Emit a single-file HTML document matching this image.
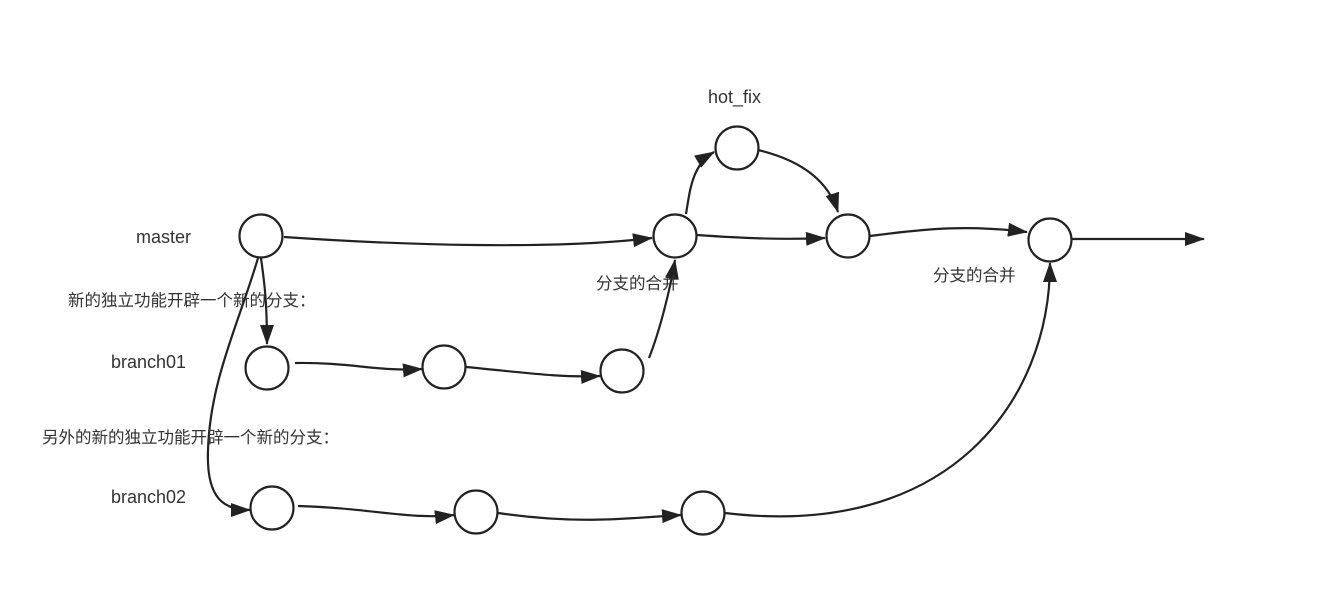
<!DOCTYPE html>
<html><head><meta charset="utf-8"><style>
html,body{margin:0;padding:0;background:#fff;width:1326px;height:614px;overflow:hidden}
text{font-family:"Liberation Sans","Noto Sans CJK SC",sans-serif;font-size:18px;fill:#333}
text.c{font-size:16.5px}
</style></head><body>
<svg width="1326" height="614" viewBox="0 0 1326 614" xmlns="http://www.w3.org/2000/svg">
<defs>
<marker id="b" markerWidth="20" markerHeight="14" refX="19" refY="7" orient="auto" markerUnits="userSpaceOnUse"><path d="M0,0 L20,7 L0,14 Z" fill="#222"/></marker></defs>
<g fill="none" stroke="#222" stroke-width="2.2">
<path d="M284,237 C400,245 550,250 652,238" marker-end="url(#b)"/>
<path d="M697,235 C740,238 780,240 825,238" marker-end="url(#b)"/>
<path d="M686,214 C690,190 692,165 714,152" marker-end="url(#b)"/>
<path d="M758,150 C800,160 828,180 838,212" marker-end="url(#b)"/>
<path d="M870,236 C930,228 970,225 1027,232" marker-end="url(#b)"/>
<path d="M1072,239 L1204,239" marker-end="url(#b)"/>
<path d="M261,258 C264,280 267,300 267,344" marker-end="url(#b)"/>
<path d="M258,258 C240,320 210,380 208,450 C206,500 225,510 250,510" marker-end="url(#b)"/>
<path d="M295,363 C350,362 380,372 422,369" marker-end="url(#b)"/>
<path d="M466,367 C520,372 560,378 600,376" marker-end="url(#b)"/>
<path d="M649,358 C660,330 670,290 675,260" marker-end="url(#b)"/>
<path d="M298,506 C370,508 410,520 454,515" marker-end="url(#b)"/>
<path d="M498,513 C580,525 630,518 681,515" marker-end="url(#b)"/>
<path d="M725,513 C950,540 1050,400 1050,263" marker-end="url(#b)"/>
</g>
<g fill="#fff" stroke="#222" stroke-width="2.2">
<circle cx="261" cy="236" r="21.5"/><circle cx="737" cy="148" r="21.5"/><circle cx="675" cy="236" r="21.5"/>
<circle cx="848" cy="236" r="21.5"/><circle cx="1050" cy="240" r="21.5"/>
<circle cx="267" cy="368" r="21.5"/><circle cx="444" cy="367" r="21.5"/><circle cx="622" cy="371" r="21.5"/>
<circle cx="272" cy="508" r="21.5"/><circle cx="476" cy="512" r="21.5"/><circle cx="703" cy="513" r="21.5"/>
</g>
<text x="136" y="243">master</text>
<text x="708" y="103">hot_fix</text>
<text class="c" x="596" y="289">分支的合并</text>
<text class="c" x="933" y="281">分支的合并</text>
<text class="c" x="68" y="306">新的独立功能开辟一个新的分支：</text>
<text x="111" y="368">branch01</text>
<text class="c" x="42" y="443">另外的新的独立功能开辟一个新的分支：</text>
<text x="111" y="503">branch02</text>
</svg>
</body></html>
